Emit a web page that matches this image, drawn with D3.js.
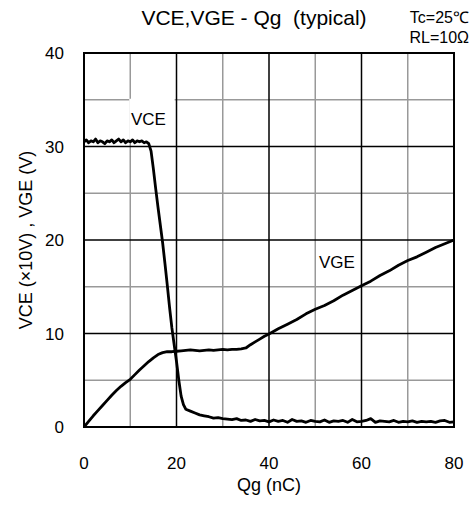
<!DOCTYPE html>
<html>
<head>
<meta charset="utf-8">
<script src="https://cdn.jsdelivr.net/npm/d3@7"></script>
<style>
  body { margin: 0; background: #fff; }
  text { font-family: Arial, "Liberation Sans", sans-serif; fill: #000; white-space: pre; }
</style>
</head>
<body>
<div id="chart"></div>
<script>
// Qg (nC) vs VCE (x10V)
const vceQg = [0, 0.5, 1, 1.5, 2, 2.5, 3, 3.5, 4, 4.5, 5, 5.5, 6, 6.5, 7, 7.5, 8, 8.5, 9, 9.5,
  10, 10.5, 11, 11.5, 12, 12.5, 13, 13.5, 14, 14.5, 15, 15.5, 16, 16.5, 17, 17.5, 18, 18.5, 19, 19.5,
  20, 20.5, 21, 21.5, 22, 23, 24, 25, 26, 27, 28, 29, 30, 31, 32, 33, 34, 35, 36, 37, 38, 39,
  40, 41, 42, 43, 44, 45, 46, 47, 48, 49, 50, 51, 52, 53, 54, 55, 56, 57, 58, 59,
  60, 61, 62, 63, 64, 65, 66, 67, 68, 69, 70, 71, 72, 73, 74, 75, 76, 77, 78, 79, 80];
const vceVal = [30.5, 30.7, 30.4, 30.6, 30.5, 30.8, 30.4, 30.6, 30.5, 30.3, 30.6, 30.5, 30.7, 30.4, 30.6, 30.8, 30.5, 30.7, 30.4, 30.6,
  30.5, 30.7, 30.4, 30.6, 30.5, 30.6, 30.4, 30.5, 30.3, 29.5, 27.6, 25.5, 23.5, 21.6, 19.7, 17.5, 15.2, 12.8, 10.6, 8.8,
  7.0, 5.0, 3.3, 2.4, 1.9, 1.7, 1.5, 1.3, 1.2, 1.1, 0.95, 1.0, 0.9, 0.85, 0.8, 0.9, 0.7, 0.75, 0.6, 0.8, 0.65, 0.7,
  0.55, 0.75, 0.6, 0.7, 0.5, 0.8, 0.6, 0.65, 0.5, 0.7, 0.6, 0.55, 0.75, 0.5, 0.65, 0.6, 0.7, 0.5, 0.8, 0.55,
  0.6, 0.7, 0.9, 0.5, 0.65, 0.6, 0.55, 0.7, 0.5, 0.6, 0.55, 0.65, 0.5, 0.6, 0.55, 0.6, 0.5, 0.65, 0.7, 0.5, 0.55];

// Qg (nC) vs VGE (V)
const vgeQg = [0, 1, 2, 3, 4, 5, 6, 7, 8, 9, 10, 11, 12, 13, 14, 15, 16, 17, 18, 19,
  20, 21, 22, 23, 24, 25, 26, 27, 28, 29, 30, 31, 32, 33, 34, 35, 36, 37, 38, 39,
  40, 42, 44, 46, 48, 50, 52, 54, 56, 58, 60, 62, 64, 66, 68, 70, 72, 74, 76, 78, 80];
const vgeVal = [0, 0.6, 1.2, 1.75, 2.3, 2.85, 3.4, 3.9, 4.35, 4.75, 5.1, 5.6, 6.1, 6.55, 7.0, 7.4, 7.75, 7.95, 8.05, 8.05,
  8.1, 8.15, 8.2, 8.25, 8.2, 8.15, 8.2, 8.25, 8.2, 8.25, 8.3, 8.25, 8.3, 8.3, 8.35, 8.45, 8.8, 9.1, 9.4, 9.7,
  9.95, 10.5, 11.0, 11.5, 12.1, 12.6, 13.0, 13.5, 14.1, 14.6, 15.1, 15.6, 16.2, 16.7, 17.3, 17.8, 18.2, 18.7, 19.2, 19.6, 20.0];

const xTicks = [0, 20, 40, 60, 80];
const yTicks = [0, 10, 20, 30, 40];
const xMinor = [10, 30, 50, 70];
const yMinor = [5, 15, 25, 35];

const W = 472, H = 507;
const pLeft = 84, pRight = 454, pTop = 53, pBottom = 427;

const svg = d3.select('#chart').append('svg')
    .attr('width', W)
    .attr('height', H);

const x = d3.scaleLinear().domain([0, 80]).range([pLeft, pRight]);
const y = d3.scaleLinear().domain([0, 40]).range([pBottom, pTop]);

// Grid - gray minor, black major
svg.append('g').selectAll('line').data(xMinor).join('line')
    .attr('x1', d => x(d)).attr('x2', d => x(d))
    .attr('y1', pTop).attr('y2', pBottom)
    .attr('stroke', '#999').attr('stroke-width', 1.5);
svg.append('g').selectAll('line').data(yMinor).join('line')
    .attr('x1', pLeft).attr('x2', pRight)
    .attr('y1', d => y(d)).attr('y2', d => y(d))
    .attr('stroke', '#999').attr('stroke-width', 1.5);
svg.append('g').selectAll('line').data(xTicks.slice(1, -1)).join('line')
    .attr('x1', d => x(d)).attr('x2', d => x(d))
    .attr('y1', pTop).attr('y2', pBottom)
    .attr('stroke', '#000').attr('stroke-width', 1.5);
svg.append('g').selectAll('line').data(yTicks.slice(1, -1)).join('line')
    .attr('x1', pLeft).attr('x2', pRight)
    .attr('y1', d => y(d)).attr('y2', d => y(d))
    .attr('stroke', '#000').attr('stroke-width', 1.5);

// White box behind the VCE label
svg.append('rect')
    .attr('x', x(10) - 1).attr('y', y(35) - 1)
    .attr('width', x(19.6) - x(10) + 1).attr('height', y(30.6) - y(35) + 1)
    .attr('fill', '#fff');

// Frame
svg.append('rect')
    .attr('x', pLeft).attr('y', pTop)
    .attr('width', pRight - pLeft).attr('height', pBottom - pTop)
    .attr('fill', 'none').attr('stroke', '#000').attr('stroke-width', 2);

// Curves
const line = d3.line().x(d => x(d[0])).y(d => y(d[1]));
svg.append('path')
    .datum(vceQg.map((q, i) => [q, vceVal[i]]))
    .attr('d', line)
    .attr('fill', 'none').attr('stroke', '#000').attr('stroke-width', 2.8)
    .attr('stroke-linejoin', 'round');
svg.append('path')
    .datum(vgeQg.map((q, i) => [q, vgeVal[i]]))
    .attr('d', line)
    .attr('fill', 'none').attr('stroke', '#000').attr('stroke-width', 2.8)
    .attr('stroke-linejoin', 'round');

// Tick labels
svg.append('g').selectAll('text').data(xTicks).join('text')
    .attr('x', d => x(d)).attr('y', 469)
    .attr('text-anchor', 'middle')
    .attr('font-size', '17px')
    .text(d => d);
svg.append('g').selectAll('text').data(yTicks).join('text')
    .attr('x', 64).attr('y', d => y(d) + 6)
    .attr('text-anchor', 'end')
    .attr('font-size', '17px')
    .text(d => d);

// Axis titles
svg.append('text')
    .attr('x', x(40)).attr('y', 491)
    .attr('text-anchor', 'middle').attr('font-size', '18px')
    .text('Qg (nC)');
svg.append('text')
    .attr('transform', `translate(32,${(pTop + pBottom) / 2}) rotate(-90)`)
    .attr('text-anchor', 'middle').attr('font-size', '18px')
    .text('VCE (×10V) , VGE (V)');

// Title and conditions
svg.append('text')
    .attr('x', 254).attr('y', 25)
    .attr('text-anchor', 'middle').attr('font-size', '21px')
    .text('VCE,VGE - Qg  (typical)');
svg.append('text')
    .attr('x', 469).attr('y', 23)
    .attr('text-anchor', 'end').attr('font-size', '16px')
    .text('Tc=25℃');
svg.append('text')
    .attr('x', 469).attr('y', 43)
    .attr('text-anchor', 'end').attr('font-size', '16px')
    .text('RL=10Ω');

// Curve labels
svg.append('text')
    .attr('x', 131).attr('y', 125)
    .attr('font-size', '17px')
    .text('VCE');
svg.append('text')
    .attr('x', 319).attr('y', 268)
    .attr('font-size', '17px')
    .text('VGE');
</script>
</body>
</html>
